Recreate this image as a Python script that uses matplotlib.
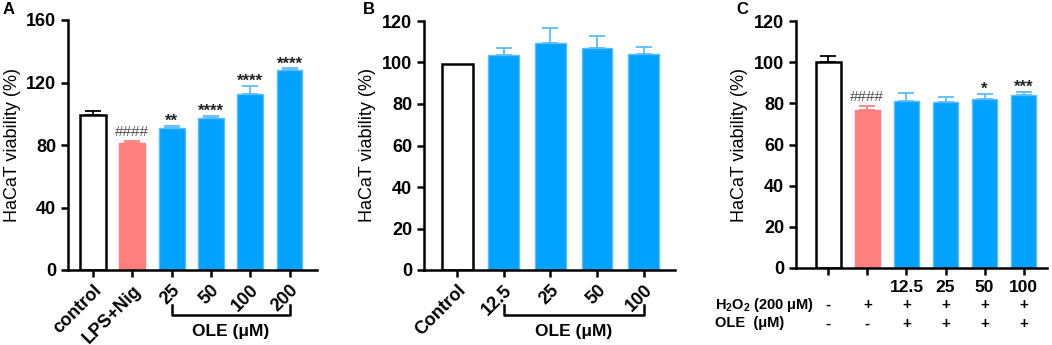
import numpy as np
import matplotlib
matplotlib.use("Agg")
import matplotlib.pyplot as plt
from matplotlib import transforms

plt.rcParams['font.family'] = ['Liberation Sans', 'DejaVu Sans']
plt.rcParams['mathtext.fontset'] = 'custom'
plt.rcParams['mathtext.bf'] = 'Liberation Sans:bold'
plt.rcParams['mathtext.rm'] = 'Liberation Sans'
plt.rcParams['mathtext.default'] = 'bf'

# panel A
a_labels = ['control', 'LPS+Nig', '25', '50', '100', '200']
a_vals = [99.5, 81, 91, 97.5, 112.5, 128]
a_err = [2.5, 1.8, 1.2, 1.3, 5.5, 1.0]
a_sig = ['', '####', '**', '****', '****', '****']

# panel B
b_labels = ['Control', '12.5', '25', '50', '100']
b_vals = [99.5, 103.5, 109.5, 107, 104]
b_err = [0, 3.5, 7, 6, 3.5]

# panel C
c_labels = ['', '', '12.5', '25', '50', '100']
c_vals = [100, 77, 81, 80.5, 82, 84]
c_err = [2.8, 1.6, 4.0, 2.6, 2.6, 1.6]
c_sig = ['', '####', '', '', '*', '***']
c_h2o2 = ['-', '+', '+', '+', '+', '+']
c_ole = ['-', '-', '+', '+', '+', '+']

BLUE = '#00A2FF'
BLUE_EDGE = '#5cbcff'
RED = '#FF7F7F'

W, H = 1052, 345
fig = plt.figure(figsize=(W / 100, H / 100), dpi=100)


def px_axes(left, right, top, bottom):
    return fig.add_axes([left / W, 1 - bottom / H, (right - left) / W, (bottom - top) / H])


def style(ax, ymax, step):
    for s in ['top', 'right']:
        ax.spines[s].set_visible(False)
    for s in ['left', 'bottom']:
        ax.spines[s].set_linewidth(1.8)
    ax.tick_params(width=1.8, length=5, labelsize=13)
    ax.set_ylim(0, ymax)
    ax.set_yticks(np.arange(0, ymax + 1, step))
    for t in ax.get_yticklabels():
        t.set_fontweight('bold')
    ax.set_ylabel('HaCaT viability (%)', fontsize=13, labelpad=4)


def bars(ax, vals, err, kinds):
    x = np.arange(len(vals))
    for i, (v, e, k) in enumerate(zip(vals, err, kinds)):
        if k == 'w':
            ax.bar(i, v, 0.66, color='white', edgecolor='black', linewidth=1.8, zorder=2)
            ec = 'black'
        elif k == 'r':
            ax.bar(i, v, 0.66, color=RED, edgecolor=RED, linewidth=1, zorder=2)
            ec = RED
        else:
            ax.bar(i, v, 0.66, color=BLUE, edgecolor=BLUE_EDGE, linewidth=1, zorder=2)
            ec = BLUE_EDGE
        if e > 0:
            ax.errorbar(i, v, yerr=[[0], [e]], fmt='none', ecolor=ec,
                        elinewidth=1.3, capsize=6, capthick=1.3, zorder=1)
    return x


def sig(ax, vals, err, marks, ymax):
    for i, (v, e, m) in enumerate(zip(vals, err, marks)):
        if not m:
            continue
        if m.startswith('#'):
            ax.text(i, v + e + ymax * 0.008, m, ha='center', va='bottom', fontsize=11,
                    color='#555555')
        else:
            ax.text(i, v + e - ymax * 0.012, m, ha='center', va='bottom', fontsize=12,
                    fontweight='bold', color='#222222')


def bracket(ax, x0, x1, ytop, ybot, ytext):
    tr = transforms.blended_transform_factory(ax.transData, ax.transAxes)
    ax.plot([x0, x0, x1, x1], [ytop, ybot, ybot, ytop], color='black', lw=1.8,
            transform=tr, clip_on=False)
    ax.text((x0 + x1) / 2, ytext, 'OLE (μM)', transform=tr, ha='center', va='center',
            fontsize=12.5, fontweight='bold')


# ---- A
axA = px_axes(68, 317, 20, 270)
xA = bars(axA, a_vals, a_err, ['w', 'r', 'b', 'b', 'b', 'b'])
sig(axA, a_vals, a_err, a_sig, 160)
style(axA, 160, 40)
axA.set_xlim(-0.64, 5.70)
axA.set_xticks(xA)
axA.set_xticklabels(a_labels, rotation=45, ha='right', va='top',
                    rotation_mode='anchor', fontweight='bold', fontsize=13)
bracket(axA, 2, 5, -0.14, -0.18, -0.245)
fig.text(3 / W, 1 - 10 / H, 'A', fontsize=12, fontweight='bold', va='center')

# ---- B
axB = px_axes(424, 675, 21, 270)
xB = bars(axB, b_vals, b_err, ['w', 'b', 'b', 'b', 'b'])
style(axB, 120, 20)
axB.set_xlim(-0.71, 4.67)
axB.set_xticks(xB)
axB.set_xticklabels(b_labels, rotation=45, ha='right', va='top',
                    rotation_mode='anchor', fontweight='bold', fontsize=13)
bracket(axB, 1, 4, -0.14, -0.18, -0.245)
fig.text(363 / W, 1 - 10 / H, 'B', fontsize=12, fontweight='bold', va='center')

# ---- C
axC = px_axes(796, 1047, 21, 268)
xC = bars(axC, c_vals, c_err, ['w', 'r', 'b', 'b', 'b', 'b'])
sig(axC, c_vals, c_err, c_sig, 120)
style(axC, 120, 20)
axC.set_xlim(-0.83, 5.6)
axC.set_xticks(xC)
axC.set_xticklabels(c_labels, fontweight='bold', fontsize=12.5)
trC = transforms.blended_transform_factory(axC.transData, axC.transAxes)
for i in xC:
    axC.text(i, -0.15, c_h2o2[i], transform=trC, ha='center', va='center',
             fontsize=11, fontweight='bold')
    axC.text(i, -0.225, c_ole[i], transform=trC, ha='center', va='center',
             fontsize=11, fontweight='bold')
fig.text(715 / W, 1 - 305 / H, 'H$_2$O$_2$ (200 μM)', fontsize=10.5,
         fontweight='bold', va='center')
fig.text(715 / W, 1 - 323 / H, 'OLE  (μM)', fontsize=10.5,
         fontweight='bold', va='center')
fig.text(736 / W, 1 - 10 / H, 'C', fontsize=12, fontweight='bold', va='center')

fig.savefig('out.png', dpi=100)
